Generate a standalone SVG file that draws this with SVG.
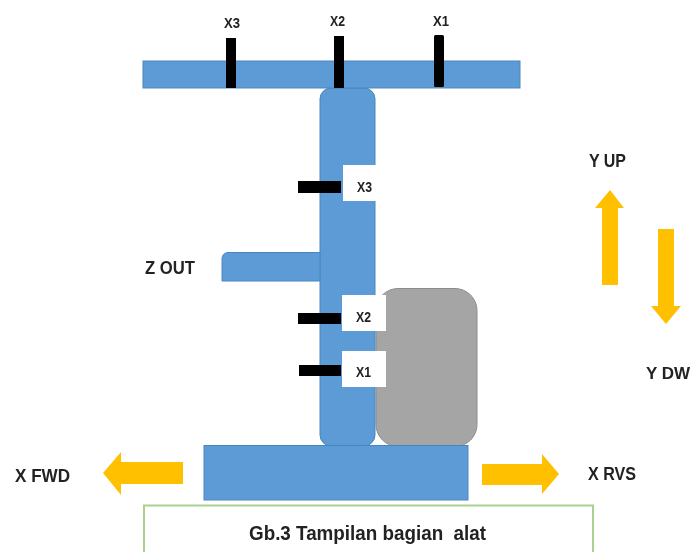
<svg xmlns="http://www.w3.org/2000/svg" width="691" height="552" viewBox="0 0 691 552">
<defs><filter id="soft" x="-5%" y="-5%" width="110%" height="110%"><feGaussianBlur stdDeviation="0.6"/></filter></defs>
<style>
.blue{fill:#5b9bd5;stroke:#4a86bd;stroke-width:1}
.gray{fill:#a5a5a5;stroke:#8c8c8c;stroke-width:1}
.blk{fill:#000}
.wht{fill:#fff}
.arr{fill:#ffc000}
text{font-family:"Liberation Sans",Arial,sans-serif;font-weight:700;fill:#222;white-space:pre}
.s{font-size:14px}
.m{font-size:19px}
</style>
<rect width="691" height="552" fill="#fff"/>
<g filter="url(#soft)">
<g id="motor"><rect class="gray" x="376" y="288.500" width="101" height="158" rx="22"/></g>
<g id="column"><rect class="blue" x="320" y="88" width="55" height="358" rx="11"/></g>
<g id="top-bar"><rect class="blue" x="143" y="61" width="377" height="27"/></g>
<g id="base"><rect class="blue" x="204" y="445.500" width="264" height="54.500"/></g>
<g id="z-arm"><path class="blue" d="M320 252.500H228a6 6 0 0 0-6 6V281H320Z"/></g>
<g id="top-x3"><rect class="blk" x="226" y="38" width="10" height="50"/><text class="s" x="224" y="28" textLength="16" lengthAdjust="spacingAndGlyphs">X3</text></g>
<g id="top-x2"><rect class="blk" x="334" y="36" width="10" height="52"/><text class="s" x="330" y="26" textLength="15" lengthAdjust="spacingAndGlyphs">X2</text></g>
<g id="top-x1"><rect class="blk" x="434" y="35" width="10" height="52" rx="1.500"/><text class="s" x="433" y="26" textLength="16" lengthAdjust="spacingAndGlyphs">X1</text></g>
<g id="side-x3"><rect class="wht" x="343" y="165" width="34" height="36"/><rect class="blk" x="298" y="181" width="43" height="12"/><text class="s" x="357" y="191.500" textLength="15" lengthAdjust="spacingAndGlyphs">X3</text></g>
<g id="side-x2"><rect class="wht" x="342" y="295" width="44" height="36"/><rect class="blk" x="298" y="313" width="43" height="11"/><text class="s" x="356" y="321.500" textLength="15" lengthAdjust="spacingAndGlyphs">X2</text></g>
<g id="side-x1"><rect class="wht" x="342" y="351" width="44" height="36"/><rect class="blk" x="299" y="365" width="42" height="11"/><text class="s" x="356" y="377" textLength="15" lengthAdjust="spacingAndGlyphs">X1</text></g>
<g id="y-up"><path class="arr" d="M610 190L624 208H618V285H602V208H595Z"/><text class="m" x="589" y="167" textLength="37" lengthAdjust="spacingAndGlyphs">Y UP</text></g>
<g id="y-dw"><path class="arr" d="M658 229H674V306H681L666 324L651 306H658Z"/><text x="646" y="379" font-size="17">Y DW</text></g>
<g id="x-fwd"><path class="arr" d="M103 473L121 452V462H183V484H121V495Z"/><text class="m" x="15" y="482" textLength="55" lengthAdjust="spacingAndGlyphs">X FWD</text></g>
<g id="x-rvs"><path class="arr" d="M482 464H542V454L559 474L542 494V485H482Z"/><text class="m" x="588" y="480" textLength="48" lengthAdjust="spacingAndGlyphs">X RVS</text></g>
<g id="z-label"><text class="m" x="145" y="274" textLength="50" lengthAdjust="spacingAndGlyphs">Z OUT</text></g>
<g id="caption"><rect x="144" y="505.500" width="449" height="60" fill="#fff" stroke="#a9d18e" stroke-width="2"/><text x="249" y="540" font-size="21" textLength="237" lengthAdjust="spacingAndGlyphs">Gb.3 Tampilan bagian  alat</text></g>
</g>
</svg>
